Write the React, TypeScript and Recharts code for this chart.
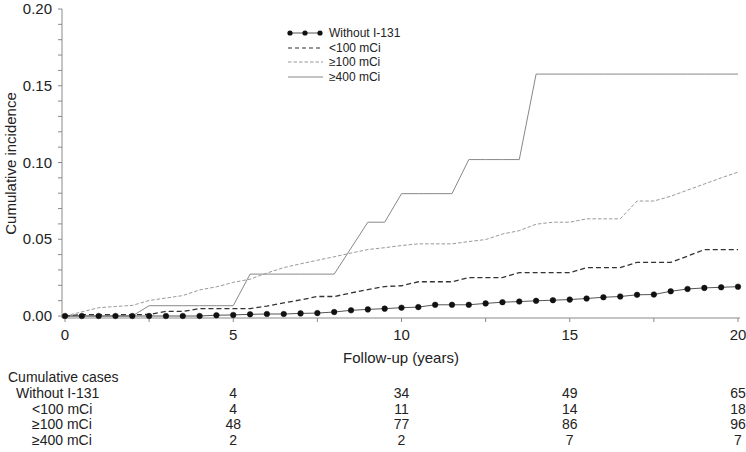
import React from "react"
import { LineChart, Line, XAxis, YAxis } from "recharts"

// follow-up time, half-year steps
const years = [
  0, 0.5, 1, 1.5, 2, 2.5, 3, 3.5, 4, 4.5, 5, 5.5, 6, 6.5, 7, 7.5, 8, 8.5, 9, 9.5, 10,
  10.5, 11, 11.5, 12, 12.5, 13, 13.5, 14, 14.5, 15, 15.5, 16, 16.5, 17, 17.5, 18, 18.5,
  19, 19.5, 20,
]

const withoutI131 = [
  0, 0, 0, 0, 0, 0, 0, 0, 0, 0.0005, 0.0007, 0.0011, 0.0013, 0.0013, 0.0017, 0.0019,
  0.0026, 0.0037, 0.0043, 0.0048, 0.0054, 0.0058, 0.0073, 0.0073, 0.0073, 0.0082, 0.009,
  0.0094, 0.0099, 0.0103, 0.0107, 0.0114, 0.0122, 0.0127, 0.0138, 0.014, 0.0161, 0.0176,
  0.0183, 0.0187, 0.0191,
]
const lt100Mci = [
  0, 0.0009, 0.0009, 0.0009, 0.0009, 0.001, 0.003, 0.003, 0.0048, 0.0048, 0.0048, 0.0048,
  0.0065, 0.0085, 0.0105, 0.0127, 0.0127, 0.015, 0.0172, 0.0192, 0.0197, 0.0223, 0.0223,
  0.0223, 0.025, 0.025, 0.025, 0.0283, 0.0283, 0.0283, 0.0283, 0.0315, 0.0315, 0.0315,
  0.035, 0.035, 0.035, 0.039, 0.0433, 0.0433, 0.0433,
]
const ge100Mci = [
  0, 0.0027, 0.0054, 0.0062, 0.0069, 0.0101, 0.0117, 0.0133, 0.017, 0.019, 0.0219, 0.024,
  0.028, 0.0315, 0.034, 0.0363, 0.0386, 0.041, 0.0433, 0.0445, 0.0459, 0.047, 0.047, 0.047,
  0.0485, 0.0498, 0.0534, 0.0556, 0.0598, 0.0611, 0.0611, 0.0633, 0.0633, 0.0633, 0.0749,
  0.0749, 0.078, 0.082, 0.086, 0.09, 0.0937,
]
const ge400Mci = [
  0, 0, 0, 0, 0, 0.0067, 0.0067, 0.0067, 0.0067, 0.0067, 0.0067, 0.0273, 0.0273, 0.0273,
  0.0273, 0.0273, 0.0273, 0.0442, 0.0611, 0.0611, 0.0797, 0.0797, 0.0797, 0.0797, 0.1019,
  0.1019, 0.1019, 0.1019, 0.1576, 0.1576, 0.1576, 0.1576, 0.1576, 0.1576, 0.1576, 0.1576,
  0.1576, 0.1576, 0.1576, 0.1576, 0.1576,
]

const xTicks = [0, 2.5, 5, 7.5, 10, 12.5, 15, 17.5, 20]
const yTicks = [
  0, 0.01, 0.02, 0.03, 0.04, 0.05, 0.06, 0.07, 0.08, 0.09, 0.1, 0.11, 0.12, 0.13, 0.14,
  0.15, 0.16, 0.17, 0.18, 0.19, 0.2,
]

// risk table under the x axis
const caseYears = [5, 10, 15, 20]
const rowLabels = ["Without I-131", "<100 mCi", "≥100 mCi", "≥400 mCi"]
const withoutCases = [4, 34, 49, 65]
const lt100Cases = [4, 11, 14, 18]
const ge100Cases = [48, 77, 86, 96]
const ge400Cases = [2, 2, 7, 7]
const caseRows = [withoutCases, lt100Cases, ge100Cases, ge400Cases]

const data = years.map((year, i) => ({
  year,
  without: withoutI131[i],
  lt100: lt100Mci[i],
  ge100: ge100Mci[i],
  ge400: ge400Mci[i],
}))

const FONT = '"Liberation Sans", Arial, Helvetica, sans-serif'
const INK = "#222"
const AXIS = "#8a8a8a"

const rowIndent = [16, 32, 32, 32]
const rowOffsets = [74, 90, 105, 121]

function XTick(props: any) {
  const { x, y, payload } = props
  const v = payload.value as number
  if (v % 5 !== 0) return <g />
  const col = caseYears.indexOf(v)
  return (
    <g fontFamily={FONT} fill={INK}>
      <text x={x} y={y + 16} textAnchor="middle" fontSize={15} fill={INK}>
        {v}
      </text>
      {v === 0 && (
        <>
          <text x={8} y={y + 58} fontSize={14} fill={INK}>
            Cumulative cases
          </text>
          {rowLabels.map((lab, i) => (
            <text key={lab} x={rowIndent[i]} y={y + rowOffsets[i]} fontSize={14} fill={INK}>
              {lab}
            </text>
          ))}
        </>
      )}
      {col >= 0 &&
        caseRows.map((row, i) => (
          <text key={i} x={x} y={y + rowOffsets[i]} textAnchor="middle" fontSize={14} fill={INK}>
            {row[col]}
          </text>
        ))}
    </g>
  )
}

function YTick(props: any) {
  const { x, y, payload } = props
  const v = payload.value as number
  if (Math.round(v * 100) % 5 !== 0) return <g />
  return (
    <text x={x} y={y + 5} textAnchor="end" fontFamily={FONT} fontSize={15} fill={INK}>
      {v.toFixed(2)}
    </text>
  )
}

function YLabel(props: any) {
  const vb = props.viewBox || { y: 9, height: 309 }
  const cx = 16
  const cy = vb.y + vb.height / 2
  return (
    <text
      x={cx}
      y={cy}
      transform={`rotate(-90 ${cx} ${cy})`}
      textAnchor="middle"
      fontFamily={FONT}
      fontSize={15}
      fill={INK}
    >
      Cumulative incidence
    </text>
  )
}

function XLabel(props: any) {
  const vb = props.viewBox || { x: 62, y: 318, width: 678 }
  return (
    <text
      x={vb.x + vb.width / 2}
      y={vb.y + 45}
      textAnchor="middle"
      fontFamily={FONT}
      fontSize={15}
      fill={INK}
    >
      Follow-up (years)
    </text>
  )
}

const legendItems = [
  { key: "without", label: "Without I-131" },
  { key: "lt100", label: "<100 mCi" },
  { key: "ge100", label: "≥100 mCi" },
  { key: "ge400", label: "≥400 mCi" },
]

function LegendSymbol({ kind }: { kind: string }) {
  if (kind === "without")
    return (
      <svg width={38} height={10}>
        <line x1={2} y1={5} x2={35} y2={5} stroke="#555" strokeWidth={1} />
        <circle cx={3} cy={5} r={2.6} fill="#111" />
        <circle cx={18} cy={5} r={2.6} fill="#111" />
        <circle cx={33} cy={5} r={2.6} fill="#111" />
      </svg>
    )
  if (kind === "lt100")
    return (
      <svg width={38} height={10}>
        <line x1={1} y1={5} x2={36} y2={5} stroke="#333" strokeWidth={1.2} strokeDasharray="4 3" />
      </svg>
    )
  if (kind === "ge100")
    return (
      <svg width={38} height={10}>
        <line x1={1} y1={5} x2={36} y2={5} stroke="#999" strokeWidth={1} strokeDasharray="3.5 2" />
      </svg>
    )
  return (
    <svg width={38} height={10}>
      <line x1={1} y1={5} x2={36} y2={5} stroke="#888" strokeWidth={1} />
    </svg>
  )
}

function LegendBox() {
  return (
    <div
      style={{
        position: "absolute",
        left: 287,
        top: 26,
        fontFamily: FONT,
        fontSize: 12,
        color: INK,
      }}
    >
      {legendItems.map((it) => (
        <div key={it.key} style={{ display: "flex", alignItems: "center", height: 14.5 }}>
          <LegendSymbol kind={it.key} />
          <span style={{ marginLeft: 4, lineHeight: "14px" }}>{it.label}</span>
        </div>
      ))}
    </div>
  )
}

export default function App() {
  return (
    <div style={{ position: "absolute", left: 0, top: 0, width: 746, height: 452, background: "#fff" }}>
      <LineChart
        width={746}
        height={452}
        data={data}
        margin={{ top: 9, right: 6, bottom: 0, left: 0 }}
      >
        <XAxis
          dataKey="year"
          type="number"
          domain={[0, 20]}
          ticks={xTicks}
          interval={0}
          height={134}
          padding={{ left: 3, right: 2 }}
          tickSize={4}
          tickMargin={2}
          stroke={AXIS}
          tickLine={{ stroke: AXIS }}
          tick={<XTick />}
          label={<XLabel />}
        />
        <YAxis
          type="number"
          domain={[0, 0.2]}
          ticks={yTicks}
          interval={0}
          width={62}
          padding={{ top: 0, bottom: 2 }}
          tickSize={4}
          tickMargin={6}
          stroke={AXIS}
          tickLine={{ stroke: AXIS }}
          tick={<YTick />}
          label={<YLabel />}
        />
        <Line
          type="linear"
          dataKey="ge400"
          name="≥400 mCi"
          stroke="#888"
          strokeWidth={1}
          dot={false}
          isAnimationActive={false}
        />
        <Line
          type="linear"
          dataKey="ge100"
          name="≥100 mCi"
          stroke="#999"
          strokeWidth={1}
          strokeDasharray="3.5 2"
          dot={false}
          isAnimationActive={false}
        />
        <Line
          type="linear"
          dataKey="lt100"
          name="<100 mCi"
          stroke="#333"
          strokeWidth={1.3}
          strokeDasharray="5 3"
          dot={false}
          isAnimationActive={false}
        />
        <Line
          type="linear"
          dataKey="without"
          name="Without I-131"
          stroke="#555"
          strokeWidth={1}
          dot={{ r: 2.8, fill: "#111", stroke: "#111", strokeWidth: 0.5 }}
          isAnimationActive={false}
        />
      </LineChart>
      <LegendBox />
    </div>
  )
}
